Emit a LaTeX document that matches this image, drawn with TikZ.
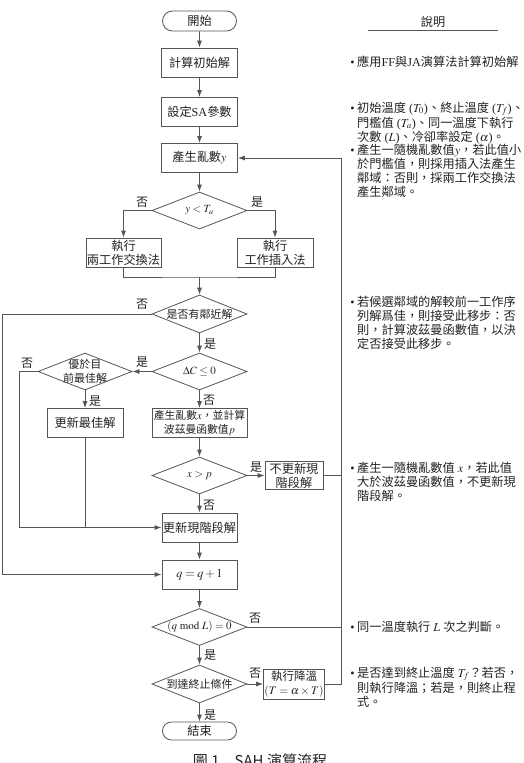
\documentclass[tikz,border=0pt]{standalone}
\usepackage{mathptmx}
\usepackage{fontspec}
\setmainfont{Liberation Serif}
\newfontfamily\cjk{Noto Sans CJK TC}
\usetikzlibrary{shapes.geometric,shapes.misc,arrows.meta}
\newcommand{\zh}[1]{{\cjk #1}}
\newcommand{\bul}{\llap{\textbullet\hspace{2.5pt}}}
\definecolor{lnc}{HTML}{555555}
\definecolor{txc}{HTML}{222222}
\begin{document}
\begin{tikzpicture}[x=1pt,y=-1pt,>={Latex[length=7pt,width=5pt]},
  proc/.style={draw=lnc,line width=.8pt,minimum width=76,minimum height=29,inner sep=1pt,
    align=center,font=\fontsize{12.2}{14}\selectfont,text=txc},
  term/.style={proc,rounded rectangle,minimum height=20},
  dec/.style={diamond,draw=lnc,line width=.8pt,minimum width=95,minimum height=37,inner sep=0pt},
  dtext/.style={font=\fontsize{11}{14}\selectfont,text=txc,align=center,inner sep=0pt},
  yn/.style={font=\fontsize{12}{12}\selectfont,text=txc,inner sep=0pt},
  note/.style={anchor=north west,align=left,inner sep=0pt,font=\fontsize{12.2}{14}\selectfont,text=txc},
  flow/.style={draw=lnc,line width=.8pt}]
\useasboundingbox (0,0) rectangle (523,763);
% main column
\node[term] (start) at (199.5,21) {\zh{開始}};
\node[proc] (init) at (199.5,62.5) {\zh{計算初始解}};
\node[proc] (param) at (199.5,112) {\zh{設定}SA\zh{參數}};
\node[proc] (randy) at (199.5,158) {\zh{產生亂數}$y$};
\node[dec,label={[dtext]center:$y<T_a$}] (dy) at (199.5,210.5) {};
\node[proc,minimum width=75] (swap) at (123.5,252.5) {\zh{執行}\\\zh{兩工作交換法}};
\node[proc] (ins) at (275,252.5) {\zh{執行}\\\zh{工作插入法}};
\node[dec,minimum height=38,label={[dtext]center:\zh{是否有鄰近解}}] (dnb) at (199.5,314) {};
\node[dec,label={[dtext]center:$\Delta C\le 0$}] (ddc) at (199.5,371.5) {};
\node[dec,minimum width=94,label={[dtext]center:\zh{優於目}\\\zh{前最佳解}}] (dbest) at (85,371.5) {};
\node[proc] (best) at (85,423) {\zh{更新最佳解}};
\node[proc,minimum width=95,font=\fontsize{10.8}{14}\selectfont] (randx) at (199.5,423) {\zh{產生亂數}$x$\zh{，並計算}\\\zh{波茲曼函數值}$p$};
\node[dec,label={[dtext]center:$x>p$}] (dxp) at (199.5,475.5) {};
\node[proc,minimum width=58,minimum height=28] (noup) at (294,475.5) {\zh{不更新現}\\\zh{階段解}};
\node[proc,minimum width=75] (upd) at (199.5,527.5) {\zh{更新現階段解}};
\node[proc,minimum width=75] (incq) at (199.5,574.5) {$q=q+1$};
\node[dec,label={[dtext]center:$(q\ \mathrm{mod}\ L)=0$}] (dmod) at (199.5,627) {};
\node[dec,minimum height=38,label={[dtext]center:\zh{到達終止條件}}] (dend) at (199.5,684) {};
\node[proc,minimum width=58,minimum height=30,font=\fontsize{11.5}{14}\selectfont] (cool) at (294,684) {\zh{執行降溫}\\$(T=\alpha\times T)$};
\node[term,minimum height=18] (stop) at (199.5,731) {\zh{結束}};
% yes / no
\node[yn] (no1) at (142,202) {\zh{否}};
\node[yn] (yes1) at (257,202) {\zh{是}};
\node[yn] (no2) at (142,304) {\zh{否}};
\node[yn] (yes2) at (210,344) {\zh{是}};
\node[yn] (yes3) at (142,362) {\zh{是}};
\node[yn] (no3) at (27,363) {\zh{否}};
\node[yn] (yes4) at (95,401) {\zh{是}};
\node[yn] (no4) at (209,400) {\zh{否}};
\node[yn] (yes5) at (256,467) {\zh{是}};
\node[yn] (no5) at (209,505) {\zh{否}};
\node[yn] (no6) at (255,618) {\zh{否}};
\node[yn] (yes6) at (210,655) {\zh{是}};
\node[yn] (no7) at (255,673) {\zh{否}};
\node[yn] (yes7) at (210,715) {\zh{是}};
% connectors
\coordinate (mrg) at (199.5,277);
\coordinate (lft) at (2,0);
\coordinate (lft2) at (19,0);
\coordinate (rgt) at (341,0);
\draw[flow,->] (start) -- (init);
\draw[flow,->] (init) -- (param);
\draw[flow,->] (param) -- (randy);
\draw[flow,->] (randy) -- (dy);
\draw[flow,->] (dy.west) -| (swap.north);
\draw[flow,->] (dy.east) -| (ins.north);
\draw[flow] (swap.south) |- (mrg) -| (ins.south);
\draw[flow,->] (mrg) -- (dnb.north);
\draw[flow,->] (dnb.west) -- (dnb.west -| lft) -- (lft |- incq.west) -- (incq.west);
\draw[flow,->] (dnb.south) -- (ddc.north);
\draw[flow,->] (ddc.west) -- (dbest.east);
\draw[flow,->] (dbest.south) -- (best.north);
\draw[flow,->] (dbest.west) -- (dbest.west -| lft2) -- (lft2 |- upd.west) -- (upd.west);
\draw[flow] (best.south) -- (best.south |- upd.west);
\draw[flow,->] (ddc.south) -- (randx.north);
\draw[flow,->] (randx.south) -- (dxp.north);
\draw[flow,->] (dxp.east) -- (noup.west);
\draw[flow] (noup.east) -- (noup.east -| rgt);
\draw[flow,->] (dxp.south) -- (upd.north);
\draw[flow,->] (upd.south) -- (incq.north);
\draw[flow,->] (incq.south) -- (dmod.north);
\draw[flow] (dmod.east) -- (dmod.east -| rgt);
\draw[flow,->] (dmod.south) -- (dend.north);
\draw[flow,->] (dend.east) -- (cool.west);
\draw[flow,->] (dend.south) -- (stop.north);
\draw[flow,->] (cool.east) -- (cool.east -| rgt) -- (rgt |- randy.east) -- (randy.east);
% notes
\node[yn,font=\fontsize{12.2}{14}\selectfont] (hdr) at (433,22) {\zh{說明}};
\draw[flow] (368,30) -- (498,30);
\node[note] (nt1) at (357,55.5) {\bul\zh{應用}FF\zh{與}JA\zh{演算法計算初始解}};
\node[note] (nt2) at (357,101.5) {\bul\zh{初始溫度} ($T_0$)\zh{、終止溫度} ($T_f$)\zh{、}\\
  \zh{門檻值} ($T_a$)\zh{、同一溫度下執行}\\
  \zh{次數} ($L$)\zh{、冷卻率設定} ($\alpha$)\zh{。}};
\node[note] (nt3) at (357,143.5) {\bul\zh{產生一隨機亂數值}$y$\zh{，若此值小}\\
  \zh{於門檻值，則採用插入法產生}\\
  \zh{鄰域：否則，採兩工作交換法}\\
  \zh{產生鄰域。}};
\node[note] (nt4) at (357,295.5) {\bul\zh{若候選鄰域的解較前一工作序}\\
  \zh{列解爲佳，則接受此移步：否}\\
  \zh{則，計算波茲曼函數值，以決}\\
  \zh{定否接受此移步。}};
\node[note] (nt5) at (357,461.5) {\bul\zh{產生一隨機亂數值} $x$\zh{，若此值}\\
  \zh{大於波茲曼函數值，不更新現}\\
  \zh{階段解。}};
\node[note] (nt6) at (357,620.5) {\bul\zh{同一溫度執行} $L$ \zh{次之判斷。}};
\node[note] (nt7) at (357,666.5) {\bul\zh{是否達到終止溫度} $T_f$\zh{？若否，}\\
  \zh{則執行降溫；若是，則終止程}\\
  \zh{式。}};
% caption
\node[font=\cjk\fontsize{15}{15}\selectfont,text=txc] (cap) at (260,761) {圖 1　SAH 演算流程};
\end{tikzpicture}
\end{document}
